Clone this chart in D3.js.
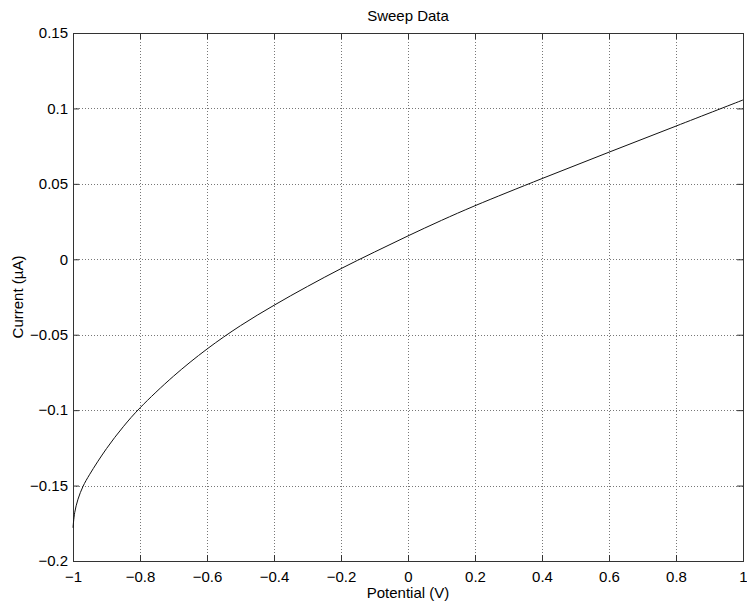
<!DOCTYPE html>
<html>
<head>
<meta charset="utf-8">
<script src="https://cdn.jsdelivr.net/npm/d3@7"></script>
<style>
  body { margin: 0; background: #fff; }
  text { font-family: Arial, "Liberation Sans", sans-serif; fill: #000; }
</style>
</head>
<body>
<script>
// sweep: potential (V) vs current (uA)
const potential = [-1, -0.995, -0.985, -0.97, -0.95, -0.9, -0.85, -0.8, -0.7, -0.6, -0.5,
  -0.4, -0.3, -0.2, -0.1, 0, 0.1, 0.2, 0.4, 0.6, 0.8, 1];
const current = [-0.178, -0.168, -0.159, -0.1505, -0.1425, -0.1255, -0.111, -0.0985, -0.0775, -0.0595, -0.044,
  -0.0305, -0.018, -0.0062, 0.0048, 0.0155, 0.0258, 0.0355, 0.0535, 0.071, 0.0883, 0.1056];
const xTicks = [-1, -0.8, -0.6, -0.4, -0.2, 0, 0.2, 0.4, 0.6, 0.8, 1];
const yTicks = [-0.2, -0.15, -0.1, -0.05, 0, 0.05, 0.1, 0.15];

const W = 747, H = 606;
const m = {top: 33, right: 4, bottom: 45, left: 73};
const iw = W - m.left - m.right, ih = H - m.top - m.bottom;

const svg = d3.select("body").append("svg")
    .attr("width", W).attr("height", H);

const g = svg.append("g")
    .attr("transform", `translate(${m.left},${m.top})`);

const x = d3.scaleLinear().domain([-1, 1]).range([0, iw]);
const y = d3.scaleLinear().domain([-0.2, 0.15]).range([ih, 0]);

// dotted grid
g.append("g").selectAll("line")
  .data(xTicks.slice(1, -1))
  .join("line")
    .attr("x1", d => Math.round(x(d)) + 0.5).attr("x2", d => Math.round(x(d)) + 0.5)
    .attr("y1", 0).attr("y2", ih)
    .attr("stroke", "#777").attr("stroke-dasharray", "1,2");
g.append("g").selectAll("line")
  .data(yTicks.slice(1, -1))
  .join("line")
    .attr("y1", d => Math.round(y(d)) + 0.5).attr("y2", d => Math.round(y(d)) + 0.5)
    .attr("x1", 0).attr("x2", iw)
    .attr("stroke", "#777").attr("stroke-dasharray", "1,2");

const fmt = d => d3.format("")(+d.toFixed(2));

function style(sel, labels) {
  sel.select(".domain").remove();
  sel.selectAll(".tick line").attr("stroke", "#333");
  sel.selectAll(".tick text").style("font-size", "15px");
  if (!labels) sel.selectAll(".tick text").remove();
}

g.append("g").attr("transform", `translate(0,${ih})`)
    .call(d3.axisBottom(x).tickValues(xTicks).tickFormat(fmt).tickSizeInner(-6).tickPadding(10))
    .call(s => style(s, true));
g.append("g")
    .call(d3.axisLeft(y).tickValues(yTicks).tickFormat(fmt).tickSizeInner(-6).tickPadding(5))
    .call(s => style(s, true));
g.append("g")
    .call(d3.axisTop(x).tickValues(xTicks).tickSizeInner(-6))
    .call(s => style(s, false));
g.append("g").attr("transform", `translate(${iw},0)`)
    .call(d3.axisRight(y).tickValues(yTicks).tickSizeInner(-6))
    .call(s => style(s, false));

// box
g.append("rect")
    .attr("x", 0.5).attr("y", 0.5).attr("width", iw).attr("height", ih)
    .attr("fill", "none").attr("stroke", "#333");

const line = d3.line()
    .x((d, i) => x(potential[i]))
    .y(d => y(d))
    .curve(d3.curveCatmullRom.alpha(0.5));

g.append("path")
    .datum(current)
    .attr("fill", "none")
    .attr("stroke", "#111")
    .attr("stroke-width", 1)
    .attr("d", line);

svg.append("text")
    .attr("x", m.left + iw / 2).attr("y", 21)
    .attr("text-anchor", "middle").style("font-size", "15px")
    .text("Sweep Data");

svg.append("text")
    .attr("x", m.left + iw / 2).attr("y", 598)
    .attr("text-anchor", "middle").style("font-size", "15px")
    .text("Potential (V)");

svg.append("text")
    .attr("transform", `translate(23,${m.top + ih / 2}) rotate(-90)`)
    .attr("text-anchor", "middle").style("font-size", "15px")
    .text("Current (µA)");
</script>
</body>
</html>
